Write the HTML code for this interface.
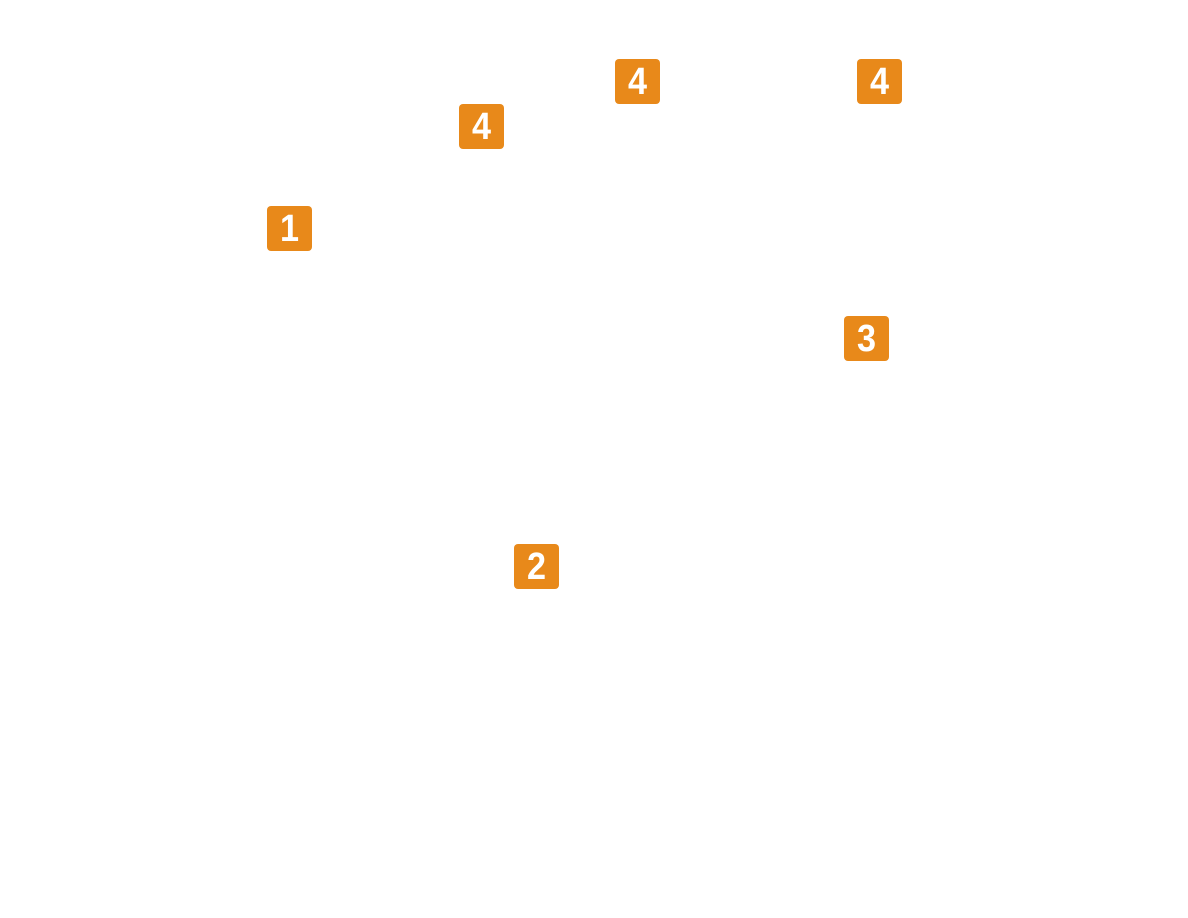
<!DOCTYPE html>
<html><head><meta charset="utf-8"><style>
html,body{margin:0;padding:0;background:#fff;width:1188px;height:918px;overflow:hidden;position:relative}
.b{position:absolute;width:45px;height:45px;background:#E8891A;border-radius:4px;color:#fff;font-family:"Liberation Sans",sans-serif;font-weight:bold;font-size:38px;line-height:46px;text-align:center}
.b span{display:inline-block;transform:scaleX(0.9)}
</style></head><body>
<div class="b" style="left:615px;top:59px"><span>4</span></div>
<div class="b" style="left:857px;top:59px"><span>4</span></div>
<div class="b" style="left:459px;top:104px"><span>4</span></div>
<div class="b" style="left:267px;top:206px"><span>1</span></div>
<div class="b" style="left:844px;top:316px"><span>3</span></div>
<div class="b" style="left:514px;top:544px"><span>2</span></div>
</body></html>
